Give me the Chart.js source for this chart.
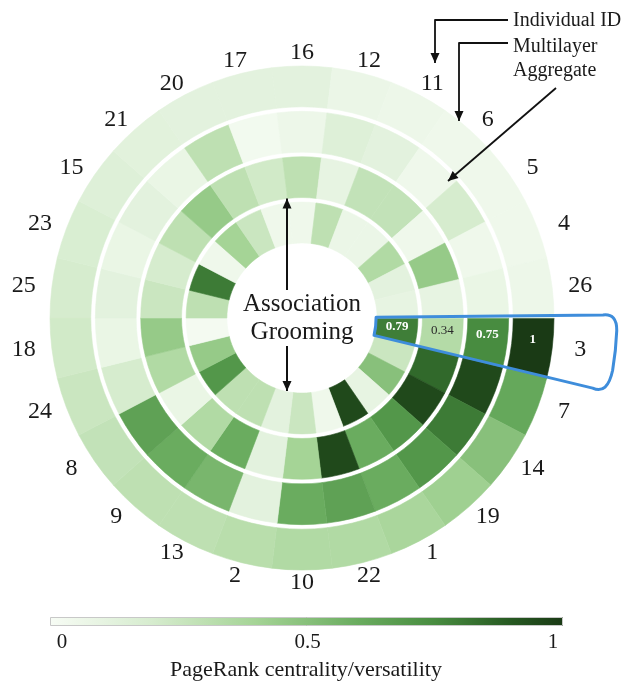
<!DOCTYPE html>
<html>
<head>
<meta charset="utf-8">
<script src="https://cdn.jsdelivr.net/npm/chart.js@4.4.1/dist/chart.umd.min.js"></script>
<style>
html,body{margin:0;padding:0;background:#fff;}
#wrap{position:relative;width:633px;height:686px;}
canvas{display:block;}
</style>
</head>
<body>
<div id="wrap"><canvas id="c" width="633" height="686"></canvas></div>
<script>
// Individuals, clockwise starting at 3 o'clock
const individuals = ['3','7','14','19','1','22','10','2','13','9','8','24','18','25','23','15','21','20','17','16','12','11','6','5','4','26'];
// Ring values (PageRank centrality / versatility), same order as individuals
const multilayer  = [1.00,0.62,0.50,0.42,0.38,0.35,0.35,0.32,0.30,0.30,0.28,0.25,0.22,0.20,0.18,0.15,0.13,0.12,0.12,0.12,0.07,0.06,0.05,0.05,0.05,0.06];
const aggregate   = [0.75,0.95,0.80,0.70,0.60,0.65,0.60,0.12,0.55,0.60,0.65,0.20,0.08,0.12,0.08,0.12,0.08,0.30,0.03,0.06,0.15,0.12,0.05,0.20,0.05,0.08];
const association = [0.34,0.85,0.95,0.70,0.60,0.95,0.40,0.12,0.60,0.35,0.08,0.35,0.45,0.25,0.20,0.30,0.45,0.30,0.22,0.30,0.10,0.28,0.28,0.05,0.45,0.10];
const grooming    = [0.79,0.25,0.50,0.10,0.95,0.05,0.25,0.12,0.30,0.30,0.70,0.45,0.02,0.30,0.80,0.05,0.40,0.25,0.05,0.05,0.30,0.07,0.07,0.35,0.12,0.10];
const highlighted = '3';
const colorbarTicks = [0, 0.5, 1];

const stops = [[0,[247,252,245]],[0.2,[214,236,206]],[0.4,[165,212,150]],[0.6,[106,172,95]],[0.75,[72,140,64]],[0.9,[38,88,33]],[1,[26,58,21]]];
function cmap(v){
  v = Math.max(0, Math.min(1, v));
  for (let i=1;i<stops.length;i++){
    if (v <= stops[i][0]){
      const [a,ca] = stops[i-1], [b,cb] = stops[i];
      const t = (v-a)/(b-a);
      const c = ca.map((x,k)=>Math.round(x + (cb[k]-x)*t));
      return `rgb(${c[0]},${c[1]},${c[2]})`;
    }
  }
  return 'rgb(26,58,21)';
}

const ones = individuals.map(()=>1);
function ring(label, vals){
  const cols = vals.map(cmap);
  return {label, data: ones, values: vals, backgroundColor: cols, borderColor: cols, borderWidth: 0.6, weight: 41};
}
function gap(){ return {label:'gap', data: ones, backgroundColor:'rgba(0,0,0,0)', borderWidth:0, weight:4.6}; }

const serif = '"Liberation Serif", "DejaVu Serif", serif';

function arrowHead(ctx, x, y, ang, len, w){
  ctx.beginPath();
  ctx.moveTo(x, y);
  ctx.lineTo(x - len*Math.cos(ang) + w*Math.sin(ang), y - len*Math.sin(ang) - w*Math.cos(ang));
  ctx.lineTo(x - len*Math.cos(ang) - w*Math.sin(ang), y - len*Math.sin(ang) + w*Math.cos(ang));
  ctx.closePath();
  ctx.fill();
}
function arrowPath(ctx, pts){
  ctx.beginPath();
  ctx.moveTo(pts[0][0], pts[0][1]);
  for (let i=1;i<pts.length;i++) ctx.lineTo(pts[i][0], pts[i][1]);
  ctx.stroke();
  const [x1,y1] = pts[pts.length-2], [x2,y2] = pts[pts.length-1];
  arrowHead(ctx, x2, y2, Math.atan2(y2-y1, x2-x1), 10, 4.5);
}

const overlay = {
  id: 'overlay',
  afterDraw(chart){
    const ctx = chart.ctx;
    const ds = chart.data.datasets;
    const metas = [0,2,4,6].map(i=>chart.getDatasetMeta(i));
    const outerArcs = metas[0].data;
    const cx = outerArcs[0].x, cy = outerArcs[0].y, R = outerArcs[0].outerRadius;
    ctx.save();

    // labels around
    ctx.fillStyle = '#1a1a1a';
    ctx.font = `24px ${serif}`;
    ctx.textAlign = 'center';
    ctx.textBaseline = 'middle';
    individuals.forEach((lab,i)=>{
      const a = outerArcs[i];
      const m = (a.startAngle + a.endAngle)/2;
      ctx.fillText(lab, cx + R*1.112*Math.cos(m), cy + R*1.052*Math.sin(m));
    });

    // highlighted wedge
    const hi = individuals.indexOf(highlighted);
    const ha = outerArcs[hi];
    const rIn = metas[3].data[hi].innerRadius - 1;
    const a0 = ha.startAngle - 0.01, a1 = ha.endAngle - 0.005;
    const rOut = R*1.25;
    ctx.strokeStyle = '#3e8ddb';
    ctx.lineWidth = 3;
    ctx.lineJoin = 'round';
    ctx.beginPath();
    ctx.moveTo(cx + rIn*Math.cos(a0), cy + rIn*Math.sin(a0));
    ctx.lineTo(cx + (rOut-14)*Math.cos(a0), cy + (rOut-14)*Math.sin(a0));
    ctx.quadraticCurveTo(cx + rOut*Math.cos(a0-0.005), cy + rOut*Math.sin(a0-0.005), cx + rOut*Math.cos(a0+0.05), cy + rOut*Math.sin(a0+0.05));
    ctx.arc(cx, cy, rOut, a0+0.05, a1-0.07);
    ctx.quadraticCurveTo(cx + rOut*Math.cos(a1+0.01), cy + rOut*Math.sin(a1+0.01), cx + (rOut-16)*Math.cos(a1), cy + (rOut-16)*Math.sin(a1));
    ctx.lineTo(cx + rIn*Math.cos(a1), cy + rIn*Math.sin(a1));
    ctx.arc(cx, cy, rIn, a1, a0, true);
    ctx.closePath();
    ctx.stroke();

    // values in wedge
    const mid = ha.startAngle + (ha.endAngle - ha.startAngle)*0.38;
    [0,2,4,6].forEach((di,k)=>{
      const arc = metas[k].data[hi];
      const rr = (arc.innerRadius + arc.outerRadius)/2;
      const v = ds[di].values[hi];
      ctx.fillStyle = v > 0.5 ? '#ffffff' : '#2a2a2a';
      ctx.font = (v > 0.5 ? 'bold ' : '') + `13px ${serif}`;
      ctx.fillText(String(v), cx + rr*Math.cos(mid), cy + rr*Math.sin(mid));
    });

    // centre labels
    ctx.fillStyle = '#1a1a1a';
    ctx.font = `25px ${serif}`;
    ctx.textBaseline = 'alphabetic';
    ctx.fillText('Association', cx, cy - 7);
    ctx.fillText('Grooming', cx, cy + 21);
    ctx.strokeStyle = '#111';
    ctx.fillStyle = '#111';
    ctx.lineWidth = 2;
    const ax = cx - 15;
    arrowPath(ctx, [[ax, cy - 28],[ax, cy - metas[2].data[0].innerRadius + 1]]);
    arrowPath(ctx, [[ax, cy + 28],[ax, cy + metas[3].data[0].innerRadius - 2]]);

    // annotation
    ctx.font = `20px ${serif}`;
    ctx.textAlign = 'left';
    ctx.fillStyle = '#1a1a1a';
    ctx.fillText('Individual ID', 513, 26);
    ctx.fillText('Multilayer', 513, 52);
    ctx.fillText('Aggregate', 513, 76);
    ctx.lineWidth = 1.8;
    ctx.fillStyle = '#111';
    arrowPath(ctx, [[508, 20],[435, 20],[435, 63]]);
    arrowPath(ctx, [[508, 43],[459, 43],[459, 121]]);
    arrowPath(ctx, [[556, 88],[448, 181]]);

    // colorbar
    const bx0 = 50, bx1 = 563, by = 617, bh = 9;
    const grad = ctx.createLinearGradient(bx0, 0, bx1, 0);
    for (let i=0;i<=20;i++) grad.addColorStop(i/20, cmap(i/20));
    ctx.fillStyle = grad;
    ctx.fillRect(bx0, by, bx1-bx0, bh);
    ctx.strokeStyle = '#c8c8c8';
    ctx.lineWidth = 1;
    ctx.strokeRect(bx0+0.5, by+0.5, bx1-bx0-1, bh-1);
    ctx.fillStyle = '#1a1a1a';
    ctx.font = `21px ${serif}`;
    ctx.textAlign = 'center';
    const t0 = 62, t1 = 553;
    colorbarTicks.forEach(t=>{
      ctx.fillText(String(t), t0 + (t1-t0)*t, 648);
    });
    ctx.font = `22px ${serif}`;
    ctx.fillText('PageRank centrality/versatility', 306, 676);
    ctx.restore();
  }
};

new Chart(document.getElementById('c'), {
  type: 'doughnut',
  data: {
    labels: individuals,
    datasets: [ring('Multilayer', multilayer), gap(), ring('Aggregate', aggregate), gap(), ring('Association', association), gap(), ring('Grooming', grooming)]
  },
  options: {
    responsive: false,
    animation: false,
    devicePixelRatio: 1,
    events: [],
    rotation: 90,
    radius: 252,
    cutout: '29.8%',
    layout: {padding: {left: 0, right: 29, top: 0, bottom: 50}},
    plugins: {legend: {display: false}, tooltip: {enabled: false}}
  },
  plugins: [overlay]
});
</script>
</body>
</html>
